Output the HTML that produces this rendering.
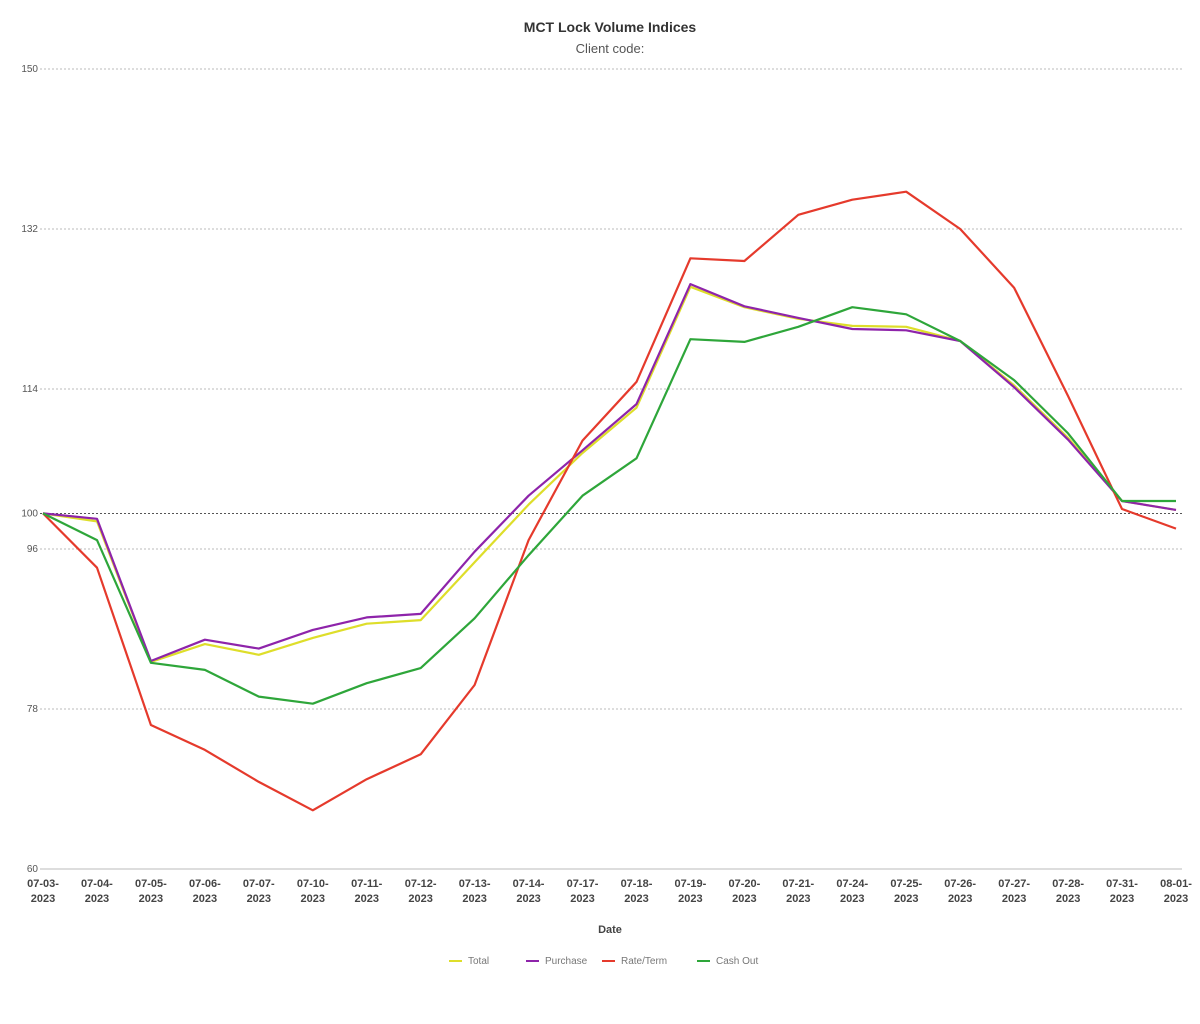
<!DOCTYPE html>
<html><head><meta charset="utf-8"><style>
body{margin:0;background:#fff;font-family:"Liberation Sans",sans-serif}
</style></head><body>
<svg id="chart" width="1200" height="1019" xmlns="http://www.w3.org/2000/svg" font-family="Liberation Sans, sans-serif">
<text x="610" y="32" text-anchor="middle" font-size="14" font-weight="bold" fill="#333">MCT Lock Volume Indices</text>
<text x="610" y="53" text-anchor="middle" font-size="13" fill="#555">Client code:</text>
<g id="grid"></g><g id="xlabels"></g><g id="series"></g>
<text x="610" y="933" text-anchor="middle" font-size="11" font-weight="bold" fill="#444">Date</text>
<g id="legend"></g>
</svg>
<script>
const categories=["07-03","07-04","07-05","07-06","07-07","07-10","07-11","07-12","07-13","07-14","07-17","07-18","07-19","07-20","07-21","07-24","07-25","07-26","07-27","07-28","07-31","08-01"];
const yTicks=[150,132,114,100,96,78,60];
const totalValues=[100,99.1,83.3,85.3,84.1,86.0,87.6,88.0,94.5,101.0,106.8,111.9,125.5,123.2,121.9,121.1,121.0,119.4,114.4,108.5,101.4,100.4];
const purchaseValues=[100,99.4,83.4,85.8,84.8,86.9,88.3,88.7,95.7,102.0,107.1,112.3,125.8,123.3,122.0,120.75,120.6,119.4,114.2,108.3,101.4,100.4];
const rateTermValues=[100,93.9,76.2,73.4,69.8,66.6,70.1,72.9,80.7,97.0,108.2,114.8,128.7,128.4,133.6,135.3,136.2,132.0,125.4,113.2,100.5,98.3];
const cashOutValues=[100,97.0,83.2,82.4,79.4,78.6,80.9,82.6,88.2,95.3,102.0,106.2,119.6,119.3,121.0,123.2,122.4,119.4,115.0,109.0,101.4,101.4];
const seriesNames=["Total","Purchase","Rate/Term","Cash Out"];
const seriesColors=["#dede2a","#8e24aa","#e53a2c","#2ea63a"];
const allSeries=[totalValues,purchaseValues,rateTermValues,cashOutValues];
const NS="http://www.w3.org/2000/svg";
const x0=43,x1=1176,yTop=69,yBot=869,vMax=150,vMin=60;
const xs=i=>x0+i*(x1-x0)/(categories.length-1);
const ys=v=>yTop+(vMax-v)*(yBot-yTop)/(vMax-vMin);
function mk(t,a,p){const e=document.createElementNS(NS,t);for(const k in a)e.setAttribute(k,a[k]);p.appendChild(e);return e;}
const grid=document.getElementById('grid');
yTicks.forEach(v=>{
  const y=ys(v);
  const l=mk('line',{x1:40,x2:1182,y1:y,y2:y,stroke:v===100?'#555':'#bbb','stroke-width':1,'stroke-dasharray':v===60?'none':'2,2'},grid);
  
  
  const t=mk('text',{x:38,y:y+3,'text-anchor':'end','font-size':10,fill:'#555'},grid);
  t.textContent=v;
  
  
});
const xl=document.getElementById('xlabels');
categories.forEach((c,i)=>{
  const t=mk('text',{x:xs(i),y:887,'text-anchor':'middle','font-size':11,fill:'#444','font-weight':'bold'},xl);
  
  
  const s1=mk('tspan',{x:xs(i),dy:0},t);s1.textContent=c+'-';
  const s2=mk('tspan',{x:xs(i),dy:15},t);s2.textContent='2023';
});
const sg=document.getElementById('series');
allSeries.forEach((vals,k)=>{
  const d=vals.map((v,i)=>(i?'L':'M')+xs(i).toFixed(1)+','+ys(v).toFixed(1)).join(' ');
  const p=mk('path',{d:d,fill:'none',stroke:seriesColors[k],'stroke-width':2.2,'stroke-linejoin':'round'},sg);
  
  
});
const lg=document.getElementById('legend');
const lx=[449,526,602,697];
seriesNames.forEach((n,k)=>{
  const g=mk('g',{},lg);
  
  
  mk('line',{x1:lx[k],x2:lx[k]+13,y1:961,y2:961,stroke:seriesColors[k],'stroke-width':2},g);
  const t=mk('text',{x:lx[k]+19,y:964,'font-size':10,fill:'#777'},g);
  t.textContent=n;
});
</script>
</body></html>
